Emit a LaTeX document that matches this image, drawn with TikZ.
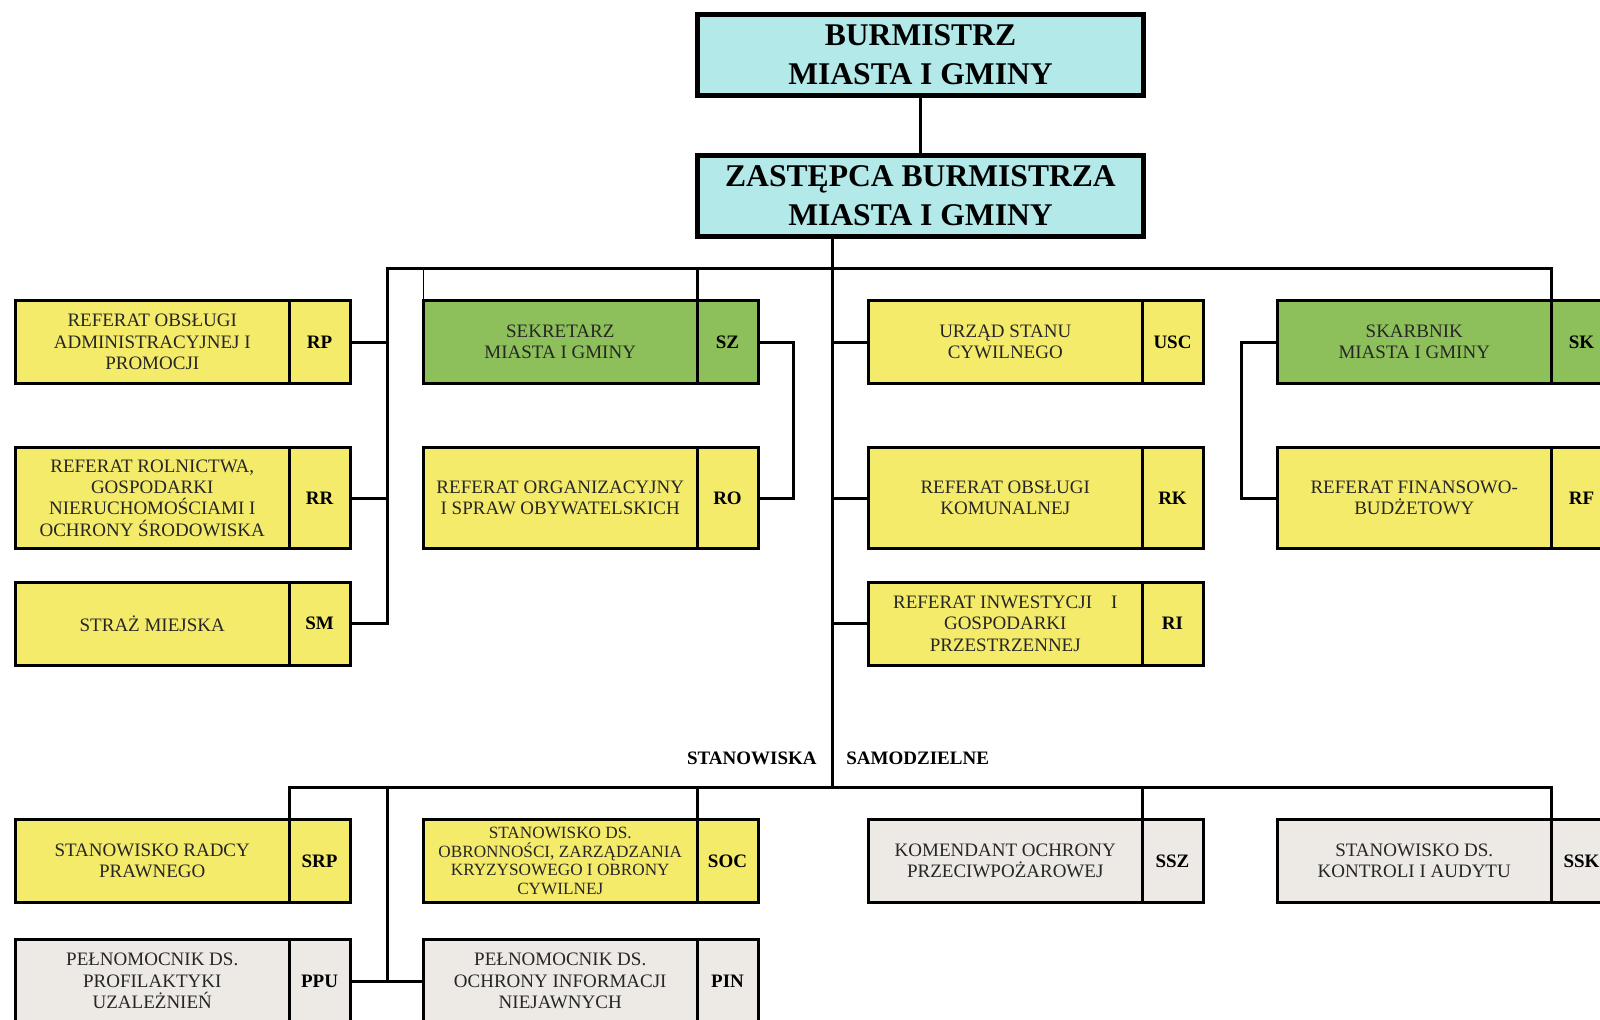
\documentclass[tikz,border=0pt]{standalone}
\usepackage{fontspec}
\setmainfont{Liberation Serif}
\usetikzlibrary{positioning}
\definecolor{cyancolor}{RGB}{179,233,233}
\definecolor{yellowcolor}{RGB}{245,235,107}
\definecolor{greencolor}{RGB}{141,192,90}
\definecolor{graycolor}{RGB}{237,233,229}
\colorlet{Hcolor}{cyancolor}
\colorlet{Ycolor}{yellowcolor}
\colorlet{Gcolor}{greencolor}
\colorlet{Scolor}{graycolor}

\tikzset{
  orgbox/.style={draw,line width=1.5pt,outer sep=0pt,inner sep=1pt,minimum width=136.75pt,minimum height=41.5pt,align=center,text=black!85,font=\fontsize{9.5}{10.7}\selectfont},
  orgid/.style={draw,line width=1.5pt,outer sep=0pt,inner sep=0pt,minimum width=30.5pt,minimum height=41.5pt,font=\fontsize{9.5}{10.7}\selectfont\bfseries},
  tallbox/.style={minimum height=50.5pt},
  headbox/.style={draw,line width=2.5pt,fill=Hcolor,outer sep=0pt,minimum width=223pt,minimum height=40.5pt,align=center,font=\fontsize{15.8}{19.4}\selectfont\bfseries},
  link/.style={line width=1.5pt},
  lbl/.style={inner sep=0pt,font=\fontsize{9.5}{11}\selectfont\bfseries}
}

\begin{document}
\begin{tikzpicture}[x=0.5pt,y=-0.5pt]

\useasboundingbox (0,0) rectangle (1600,1019);
\clip (0,0) rectangle (1600,1019);

\node[headbox] (BM) at (920.5,55) {BURMISTRZ\\MIASTA I GMINY};
\node[headbox] (ZB) at (920.5,196) {ZASTĘPCA BURMISTRZA\\MIASTA I GMINY};

% left column
\begin{scope}[every node/.append style={fill=Ycolor}]
\node[orgbox] (RP) at (152.25,342) {REFERAT OBSŁUGI\\ADMINISTRACYJNEJ I\\PROMOCJI};
\node[orgid,right=0pt of RP] (RPid) {RP};
\node[orgbox,tallbox] (RR) at (152.25,498) {REFERAT ROLNICTWA,\\GOSPODARKI\\NIERUCHOMOŚCIAMI I\\OCHRONY ŚRODOWISKA};
\node[orgid,tallbox,right=0pt of RR] (RRid) {RR};
\node[orgbox] (SM) at (152.25,623.5) {STRAŻ MIEJSKA};
\node[orgid,right=0pt of SM] (SMid) {SM};
\end{scope}

% sekretarz
\node[orgbox,fill=Gcolor] (SZ) at (560.25,342) {SEKRETARZ\\MIASTA I GMINY};
\node[orgid,fill=Gcolor,right=0pt of SZ] (SZid) {SZ};
\node[orgbox,tallbox,fill=Ycolor] (RO) at (560.25,498) {REFERAT ORGANIZACYJNY\\I SPRAW OBYWATELSKICH};
\node[orgid,tallbox,fill=Ycolor,right=0pt of RO] (ROid) {RO};

% zastepca
\begin{scope}[every node/.append style={fill=Ycolor}]
\node[orgbox] (USC) at (1005.25,342) {URZĄD STANU\\CYWILNEGO};
\node[orgid,right=0pt of USC] (USCid) {USC};
\node[orgbox,tallbox] (RK) at (1005.25,498) {REFERAT OBSŁUGI\\KOMUNALNEJ};
\node[orgid,tallbox,right=0pt of RK] (RKid) {RK};
\node[orgbox] (RI) at (1005.25,623.5) {REFERAT INWESTYCJI\quad I\\GOSPODARKI\\PRZESTRZENNEJ};
\node[orgid,right=0pt of RI] (RIid) {RI};
\end{scope}

% skarbnik
\node[orgbox,fill=Gcolor] (SK) at (1414.25,342) {SKARBNIK\\MIASTA I GMINY};
\node[orgid,fill=Gcolor,right=0pt of SK] (SKid) {SK};
\node[orgbox,tallbox,fill=Ycolor] (RF) at (1414.25,498) {REFERAT FINANSOWO-\\BUDŻETOWY};
\node[orgid,tallbox,fill=Ycolor,right=0pt of RF] (RFid) {RF};

% stanowiska samodzielne
\node[lbl,anchor=east] (stan) at (817,758) {STANOWISKA};
\node[lbl,anchor=west] (samo) at (846,758) {SAMODZIELNE};

\node[orgbox,fill=Ycolor] (SRP) at (152.25,861) {STANOWISKO RADCY\\PRAWNEGO};
\node[orgid,fill=Ycolor,right=0pt of SRP] (SRPid) {SRP};
\node[orgbox,fill=Ycolor,font=\fontsize{8.6}{9.35}\selectfont] (SOC) at (560.25,861) {STANOWISKO DS.\\OBRONNOŚCI, ZARZĄDZANIA\\KRYZYSOWEGO I OBRONY\\CYWILNEJ};
\node[orgid,fill=Ycolor,right=0pt of SOC] (SOCid) {SOC};
\begin{scope}[every node/.append style={fill=Scolor}]
\node[orgbox] (SSZ) at (1005.25,861) {KOMENDANT OCHRONY\\PRZECIWPOŻAROWEJ};
\node[orgid,right=0pt of SSZ] (SSZid) {SSZ};
\node[orgbox] (SSK) at (1414.25,861) {STANOWISKO DS.\\KONTROLI I AUDYTU};
\node[orgid,right=0pt of SSK] (SSKid) {SSK};
\node[orgbox] (PPU) at (152.25,981) {PEŁNOMOCNIK DS.\\PROFILAKTYKI\\UZALEŻNIEŃ};
\node[orgid,right=0pt of PPU] (PPUid) {PPU};
\node[orgbox] (PIN) at (560.25,981) {PEŁNOMOCNIK DS.\\OCHRONY INFORMACJI\\NIEJAWNYCH};
\node[orgid,right=0pt of PIN] (PINid) {PIN};
\end{scope}

\coordinate (topL) at (387,268);
\coordinate (trunk) at (832,787);
\coordinate (botM) at (387,787);
\coordinate (botR) at (1551,787);

\draw[link] (BM) -- (ZB);
\draw[link] (ZB.south -| trunk) -- (trunk);
\draw[link] (SMid.east) -| (topL) -| (SKid.north west);
\draw[link] (RPid.east) -- (RPid.east -| topL);
\draw[link] (RRid.east) -- (RRid.east -| topL);
\draw[link] (SZid.north west) -- (SZid.north west |- topL);
\draw[line width=0.5pt] (SZ.north west) -- (SZ.north west |- topL);
\draw[link] (SZid.east) -- ++(35,0) |- (ROid.east);
\draw[link] (USC.west) -- (USC.west -| trunk);
\draw[link] (RK.west) -- (RK.west -| trunk);
\draw[link] (RI.west) -- (RI.west -| trunk);
\draw[link] (SK.west) -- ++(-36,0) |- (RF.west);

\draw[link] (SRPid.north west) |- (botR) -- (SSKid.north west);
\draw[link] (SOCid.north west) -- (SOCid.north west |- botR);
\draw[link] (SSZid.north west) -- (SSZid.north west |- botR);
\draw[link] (botM) -- (botM |- PPUid.east);
\draw[link] (PPUid.east) -- (PIN.west);
\end{tikzpicture}
\end{document}
